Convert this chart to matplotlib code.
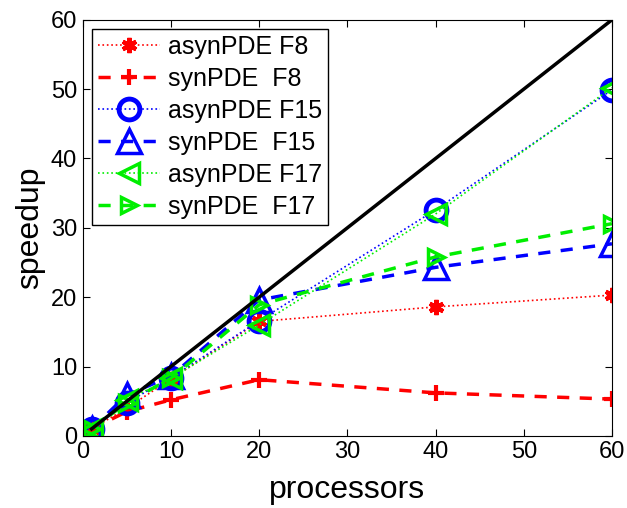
import numpy as np
import matplotlib.pyplot as plt

plt.rcParams['font.family'] = ['Liberation Sans', 'DejaVu Sans']

# processors
procs = [1, 5, 10, 20, 40, 60]

# speedup values
asyn_f8 = [1.0, 4.0, 8.2, 16.5, 18.6, 20.3]
syn_f8 = [1.0, 3.5, 5.2, 8.1, 6.2, 5.3]
asyn_f15 = [1.0, 4.8, 8.4, 16.6, 32.6, 49.9]
syn_f15 = [1.0, 5.9, 8.6, 19.6, 24.3, 27.7]
asyn_f17 = [1.0, 5.2, 8.3, 16.0, 32.0, 50.2]
syn_f17 = [1.0, 4.8, 8.3, 18.9, 25.8, 30.6]

ideal = [1, 60]

green = '#00ee00'

fig = plt.figure(figsize=(6.27, 5.08), dpi=100)
ax = fig.add_axes([0.132, 0.142, 0.844, 0.819])

ax.plot(ideal, ideal, color='k', linewidth=2.5, zorder=5)

ax.plot(procs, asyn_f8, color='red', linestyle=':', linewidth=1.2,
        marker=(6, 2, 0), markersize=11, markeredgewidth=3,
        label='asynPDE F8')
ax.plot(procs, syn_f8, color='red', linestyle='--', linewidth=2.5,
        dashes=(3.5, 3), marker='+', markersize=12, markeredgewidth=3,
        label='synPDE  F8')
ax.plot(procs, asyn_f15, color='blue', linestyle=':', linewidth=1.2,
        marker='o', markersize=15, markerfacecolor='none', markeredgewidth=3.5,
        label='asynPDE F15')
ax.plot(procs, syn_f15, color='blue', linestyle='--', linewidth=2.5,
        dashes=(3.5, 3), marker='^', markersize=17, markerfacecolor='none',
        markeredgewidth=2.5, label='synPDE  F15')
ax.plot(procs, asyn_f17, color=green, linestyle=':', linewidth=1.2,
        marker='<', markersize=15, markerfacecolor='none', markeredgewidth=2.5,
        label='asynPDE F17')
ax.plot(procs, syn_f17, color=green, linestyle='--', linewidth=2.5,
        dashes=(3.5, 3), marker='>', markersize=12, markerfacecolor='none',
        markeredgewidth=2.5, label='synPDE  F17')

ax.set_xlim(0, 60)
ax.set_ylim(0, 60)
ax.set_xticks(np.arange(0, 61, 10))
ax.set_yticks(np.arange(0, 61, 10))
ax.tick_params(direction='in', labelsize=17, length=5, top=True, right=True,
               labeltop=False, labelright=False, pad=4)
ax.set_xlabel('processors', fontsize=23, labelpad=8)
ax.set_ylabel('speedup', fontsize=23, labelpad=4)

leg = ax.legend(loc='upper left', fontsize=18, handlelength=2.5,
                fancybox=False, edgecolor='k', framealpha=1,
                borderaxespad=0.35, borderpad=0.25, labelspacing=0.32,
                handletextpad=0.3)
leg.get_frame().set_linewidth(1)

fig.savefig('out.png', dpi=100)
